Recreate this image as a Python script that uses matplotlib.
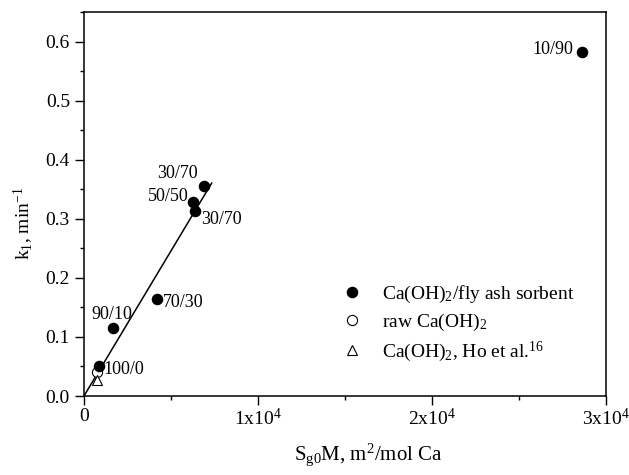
import matplotlib
matplotlib.use("Agg")
import matplotlib.pyplot as plt
from matplotlib.ticker import MultipleLocator, FixedLocator, FormatStrFormatter
from matplotlib.lines import Line2D

plt.rcParams["font.family"] = ["Liberation Serif", "DejaVu Serif"]
plt.rcParams["mathtext.fontset"] = "custom"
plt.rcParams["mathtext.rm"] = "Liberation Serif"
plt.rcParams["mathtext.it"] = "Liberation Serif"
plt.rcParams["mathtext.default"] = "regular"

# Ca(OH)2 / fly ash sorbents
sorbent_x = [28620, 6900, 6280, 6360, 4180, 1690, 880]
sorbent_y = [0.583, 0.356, 0.329, 0.314, 0.165, 0.115, 0.050]
sorbent_labels = ["10/90", "30/70", "50/50", "30/70", "70/30", "90/10", "100/0"]

raw_x = [730]
raw_y = [0.041]

ho_x = [730]
ho_y = [0.027]

fit_x = [0, 7340]
fit_y = [0, 0.3605]

# label offsets (points) and alignment for each sorbent point
label_pos = [(-6.5, 3, "right"),
             (-4.3, 10, "right"),
             (-3.6, 5, "right"),
             (5, -5, "left"),
             (4.3, -1.4, "left"),
             (-1, 11, "center"),
             (3, -0.7, "left")]

fig = plt.figure(figsize=(6.29, 4.75), dpi=100)
ax = fig.add_axes([0.1335, 0.1663, 0.8299, 0.8084])

ax.plot(fit_x, fit_y, color="black", lw=1.1, zorder=1)
ax.plot(sorbent_x, sorbent_y, "o", color="black", ms=7.3, zorder=3)
ax.plot(raw_x, raw_y, "o", mfc="white", mec="black", mew=0.8, ms=7.3, zorder=2)
ax.plot(ho_x, ho_y, "^", mfc="white", mec="black", mew=0.8, ms=7.5, zorder=2)

for x, y, lab, (dx, dy, ha) in zip(sorbent_x, sorbent_y, sorbent_labels, label_pos):
    ax.annotate(lab, (x, y), xytext=(dx, dy), textcoords="offset points",
                ha=ha, va="center_baseline", fontsize=13)

ax.set_xlim(0, 30000)
ax.set_ylim(0, 0.65)
ax.xaxis.set_major_locator(FixedLocator([0, 10000, 20000, 30000]))
ax.set_xticklabels(["0", "1x10$^4$", "2x10$^4$", "3x10$^4$"])
ax.xaxis.set_minor_locator(MultipleLocator(5000))
ax.yaxis.set_major_locator(MultipleLocator(0.1))
ax.yaxis.set_minor_locator(MultipleLocator(0.05))
ax.yaxis.set_major_formatter(FormatStrFormatter("%.1f"))

ax.tick_params(which="major", direction="out", length=6.5, width=1, labelsize=14, pad=3.6)
ax.tick_params(which="minor", direction="out", length=3.2, width=1)
ax.tick_params(axis="x", which="major", pad=2)
for s in ax.spines.values():
    s.set_linewidth(1.1)

ax.set_xlabel("S$_{g0}$M, m$^2$/mol Ca", fontsize=15)
ax.xaxis.set_label_coords(0.544, -0.118)
ax.set_ylabel("k$_1$, min$^{-1}$", fontsize=14)
ax.yaxis.set_label_coords(-0.091, 0.45)

handles = [
    Line2D([], [], ls="none", marker="o", color="black", ms=7.3),
    Line2D([], [], ls="none", marker="o", mfc="white", mec="black", mew=0.8, ms=7.3),
    Line2D([], [], ls="none", marker="^", mfc="white", mec="black", mew=0.8, ms=7.5),
]
names = ["Ca(OH)$_2$/fly ash sorbent", "raw Ca(OH)$_2$", "Ca(OH)$_2$, Ho et al.$^{16}$"]
ax.legend(handles, names, loc="upper left", bbox_to_anchor=(0.494, 0.292), frameon=False,
          fontsize=14, handlelength=1.0, handletextpad=1.07, labelspacing=0.35,
          borderpad=0, borderaxespad=0)

fig.savefig("out.png", dpi=100)
